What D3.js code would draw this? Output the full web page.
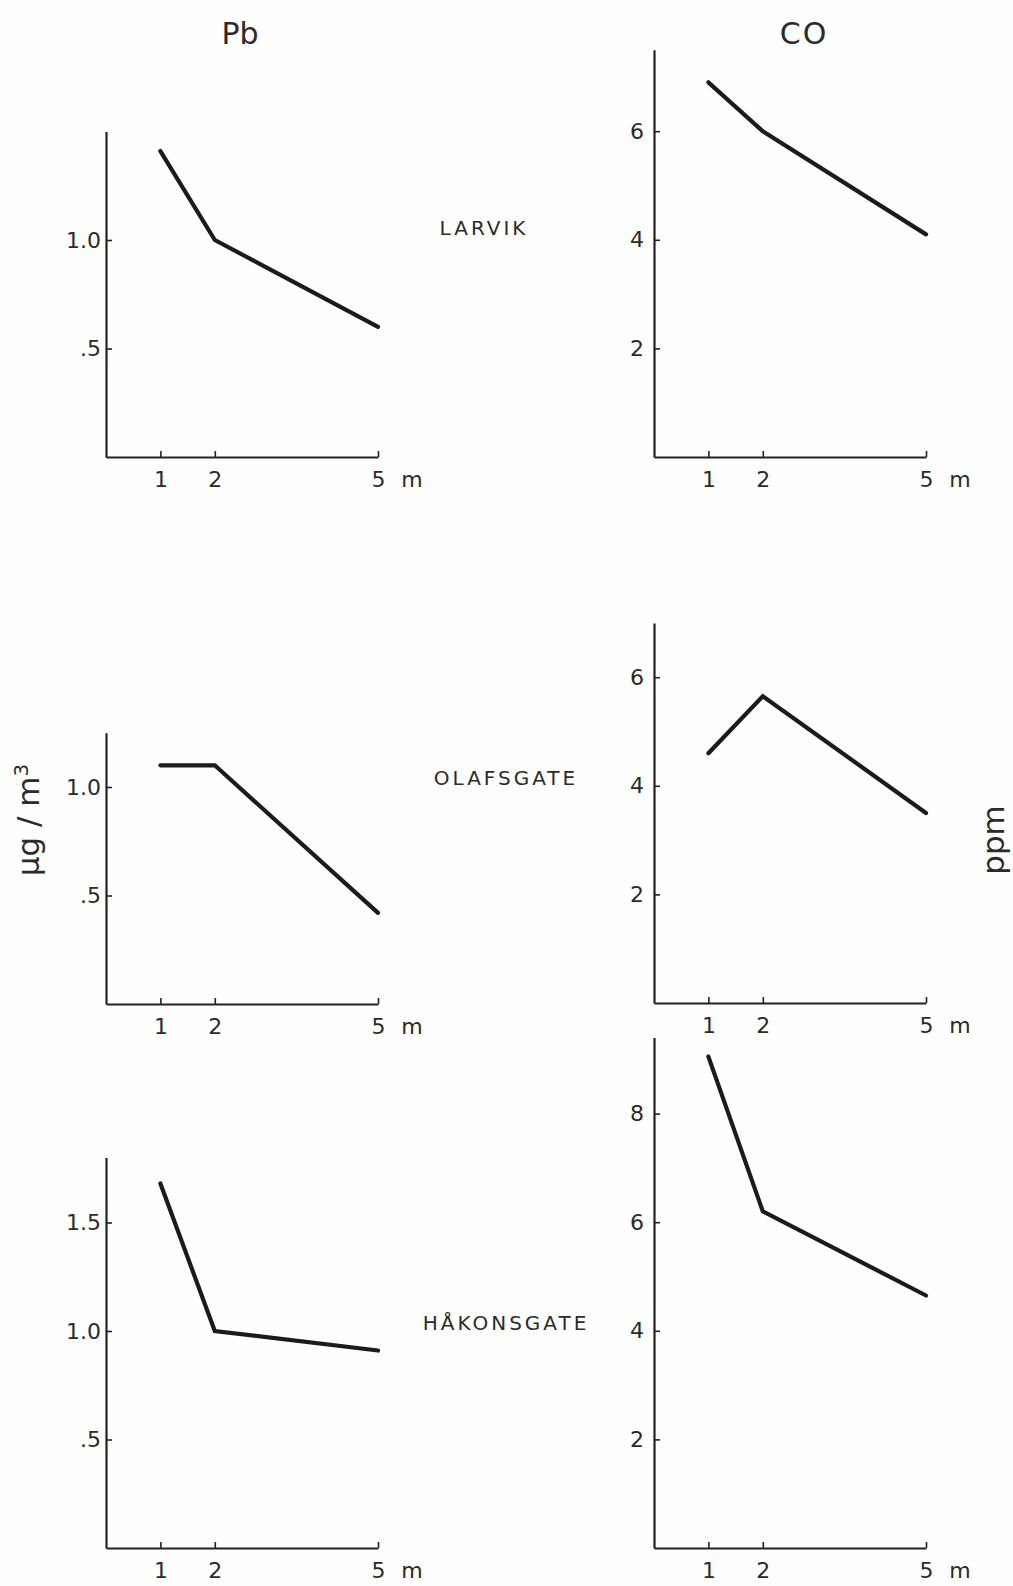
<!DOCTYPE html>
<html>
<head>
<meta charset="utf-8">
<script src="https://cdn.jsdelivr.net/npm/d3@7"></script>
<style>
  body { margin: 0; background: #fff; }
  svg { display: block; }
  text { font-family: 'DejaVu Sans', sans-serif; fill: #2b2b2b; }
  .axis .domain { stroke: #222; stroke-width: 2.2; }
  .axis .tick line { stroke: #222; stroke-width: 1.6; }
  .axis .tick text { font-size: 22px; fill: #2b2b2b; font-family: 'DejaVu Sans', sans-serif; }
  .curve { fill: none; stroke: #1b1b1b; stroke-width: 4.2; stroke-linecap: round; }
</style>
</head>
<body>
<svg id="chart"></svg>
<script>
// distance from the road (m)
const distances = [1, 2, 5]
const stations = ['LARVIK', 'OLAFSGATE', 'HÅKONSGATE']

// Pb, µg/m3
const pbLarvik = [1.41, 1.0, 0.60]
const pbOlafsgate = [1.1, 1.1, 0.42]
const pbHakonsgate = [1.68, 1.0, 0.91]

// CO, ppm
const coLarvik = [6.9, 6.0, 4.1]
const coOlafsgate = [4.6, 5.65, 3.5]
const coHakonsgate = [9.05, 6.2, 4.65]

// axis tops and tick values
const pbMax = [1.5, 1.25, 1.8]
const coMax = [7.5, 7.0, 9.4]
const pbTicks = [[0.5, 1.0], [0.5, 1.0], [0.5, 1.0, 1.5]]
const coTicks = [[2, 4, 6], [2, 4, 6], [2, 4, 6, 8]]

const pbSeries = [pbLarvik, pbOlafsgate, pbHakonsgate]
const coSeries = [coLarvik, coOlafsgate, coHakonsgate]

const width = 1013
const height = 1586

// page layout of the three rows
const rows = [
  { pbBottom: 457, coBottom: 457, labelX: 484, labelY: 235 },
  { pbBottom: 1004, coBottom: 1003, labelX: 506, labelY: 785 },
  { pbBottom: 1548, coBottom: 1548, labelX: 506, labelY: 1330 }
]
const pbPx = 217   // pixels per µg/m3
const coPx = 54.3  // pixels per ppm
const leftX = [106, 378]
const rightX = [654, 926]

const svg = d3.select('#chart')
  .attr('width', width)
  .attr('height', height)

svg.append('rect')
  .attr('width', width)
  .attr('height', height)
  .attr('fill', '#fefefe')

const pbFormat = d => d3.format('.1f')(d).replace(/^0/, '')

function panel (values, maxVal, ticks, xRange, bottom, px, fmt, pad) {
  const x = d3.scaleLinear().domain([0, 5]).range(xRange)
  const y = d3.scaleLinear().domain([0, maxVal]).range([bottom, bottom - maxVal * px])

  const g = svg.append('g')

  g.append('g')
    .attr('class', 'axis')
    .attr('transform', `translate(0,${bottom})`)
    .call(d3.axisBottom(x).tickValues(distances).tickFormat(d3.format('d'))
      .tickSize(-6).tickSizeOuter(0).tickPadding(14))

  g.append('g')
    .attr('class', 'axis')
    .attr('transform', `translate(${xRange[0]},0)`)
    .call(d3.axisLeft(y).tickValues(ticks).tickSize(-6).tickSizeOuter(0).tickPadding(pad).tickFormat(fmt))

  g.append('text')
    .attr('x', x(5) + 34)
    .attr('y', bottom + 14)
    .attr('dy', '0.71em')
    .attr('text-anchor', 'middle')
    .style('font-size', '22px')
    .text('m')

  const line = d3.line()
    .x((d, i) => x(distances[i]))
    .y(d => y(d))

  g.append('path')
    .datum(values)
    .attr('class', 'curve')
    .attr('d', line)

  return x
}

rows.forEach((r, i) => {
  panel(pbSeries[i], pbMax[i], pbTicks[i], leftX, r.pbBottom, pbPx, pbFormat, 5)
  panel(coSeries[i], coMax[i], coTicks[i], rightX, r.coBottom, coPx, d3.format('d'), 10)

  svg.append('text')
    .attr('x', r.labelX)
    .attr('y', r.labelY)
    .attr('text-anchor', 'middle')
    .style('font-size', '20px')
    .style('letter-spacing', '3px')
    .text(stations[i])
})

// column titles
svg.append('text')
  .attr('x', 240)
  .attr('y', 44)
  .attr('text-anchor', 'middle')
  .style('font-size', '30px')
  .text('Pb')

svg.append('text')
  .attr('x', 804)
  .attr('y', 44)
  .attr('text-anchor', 'middle')
  .style('font-size', '30px')
  .style('letter-spacing', '2px')
  .text('CO')

// unit labels
const unitLeft = svg.append('text')
  .attr('transform', 'translate(39,820) rotate(-90)')
  .attr('text-anchor', 'middle')
  .style('font-size', '31px')
unitLeft.append('tspan').text('µg / m')
unitLeft.append('tspan')
  .attr('dy', '-0.55em')
  .style('font-size', '20px')
  .text('3')

svg.append('text')
  .attr('transform', 'translate(1004,840) rotate(-90)')
  .attr('text-anchor', 'middle')
  .style('font-size', '31px')
  .text('ppm')
</script>
</body>
</html>
